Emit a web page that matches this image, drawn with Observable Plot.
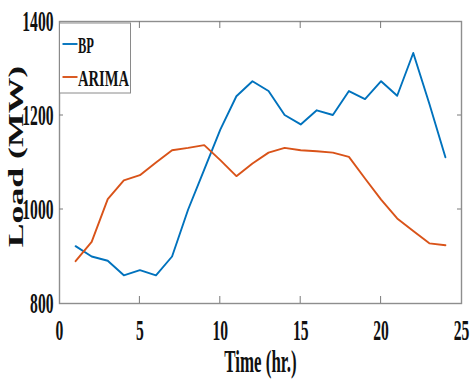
<!DOCTYPE html>
<html>
<head>
<meta charset="utf-8">
<script src="https://cdn.jsdelivr.net/npm/d3@7"></script>
<script src="https://cdn.jsdelivr.net/npm/@observablehq/plot@0.6"></script>
<style>
  html, body { margin: 0; padding: 0; background: #fff; }
  #chart svg { display: block; }
</style>
</head>
<body>
<div id="chart"></div>
<script>
// Hourly load forecasts (MW) from two models
const hours = [1, 2, 3, 4, 5, 6, 7, 8, 9, 10, 11, 12, 13, 14, 15, 16, 17, 18, 19, 20, 21, 22, 23, 24];
const bpLoad = [922, 900, 891, 860, 871, 860, 900, 1000, 1085, 1170, 1241, 1273, 1252, 1201, 1181, 1211, 1201, 1252, 1235, 1273, 1242, 1333, 1225, 1111];
const arimaLoad = [890, 931, 1022, 1062, 1073, 1100, 1126, 1131, 1137, 1105, 1071, 1098, 1121, 1131, 1126, 1124, 1121, 1112, 1066, 1021, 981, 954, 928, 924];
const seriesNames = ["BP", "ARIMA"];
const seriesColors = ["#0072BD", "#D95319"];
const xTicks = [0, 5, 10, 15, 20, 25];
const yTicks = [800, 1000, 1200, 1400];
const xTitle = "Time (hr.)";
const yTitle = "Load (MW)";

const rows = [
  ...hours.map((h, i) => ({hour: h, load: bpLoad[i], model: seriesNames[0]})),
  ...hours.map((h, i) => ({hour: h, load: arimaLoad[i], model: seriesNames[1]}))
];

const W = 471, H = 383;
const M = {top: 21, right: 10, bottom: 80, left: 59};
const font = "'Liberation Serif', 'Times New Roman', serif";

const plot = Plot.plot({
  width: W,
  height: H,
  marginTop: M.top,
  marginRight: M.right,
  marginBottom: M.bottom,
  marginLeft: M.left,
  style: {fontFamily: font, background: "#fff", overflow: "visible"},
  x: {domain: [0, 25], axis: null},
  y: {domain: [800, 1400], axis: null},
  color: {domain: seriesNames, range: seriesColors},
  marks: [
    Plot.frame({stroke: "#8e8e8e", strokeWidth: 1.4}),
    Plot.line(rows, {x: "hour", y: "load", z: "model", stroke: "model", strokeWidth: 1.9, strokeLinejoin: "round"}),
    // tick labels
    Plot.text(xTicks, {x: d => d, text: d => String(d), frameAnchor: "bottom", dy: 27, lineAnchor: "middle", textAnchor: "middle",
      fontSize: 30, fontWeight: "bold", fill: "#111"}),
    Plot.text(yTicks, {y: d => d, text: d => String(d), frameAnchor: "left", dx: -6, lineAnchor: "middle", textAnchor: "end",
      fontSize: 30, fontWeight: "bold", fill: "#111"}),
    // axis titles
    Plot.text([xTitle], {frameAnchor: "bottom", dy: 59, lineAnchor: "middle", textAnchor: "middle",
      fontSize: 31, fontWeight: "bold", fill: "#111"}),
    Plot.text([yTitle], {frameAnchor: "left", rotate: -90, dx: -43, dy: -6, lineAnchor: "middle", textAnchor: "middle",
      fontSize: 21, fontWeight: "bold", fill: "#111"})
  ]
});

document.getElementById("chart").appendChild(plot);

// Narrow the glyphs of each text group to its set width per character
const textGroups = plot.querySelectorAll('g[aria-label="text"]');
const squeeze = [0.52, 0.52, 0.545, 1.7];
textGroups.forEach((g, gi) => {
  g.querySelectorAll("text").forEach(t => {
    const w = t.getComputedTextLength();
    t.setAttribute("textLength", (w * squeeze[gi]).toFixed(1));
    t.setAttribute("lengthAdjust", "spacingAndGlyphs");
  });
});

// Inward-pointing ticks on all four sides
const sx = plot.scale("x"), sy = plot.scale("y");
const svg = d3.select(plot);
const x0 = M.left, x1 = W - M.right, y0 = M.top, y1 = H - M.bottom;
const ticks = svg.append("g").attr("stroke", "#7a7a7a").attr("stroke-width", 1);
xTicks.slice(1, -1).forEach(v => {
  const px = sx.apply(v);
  ticks.append("line").attr("x1", px).attr("x2", px).attr("y1", y1).attr("y2", y1 - 7);
  ticks.append("line").attr("x1", px).attr("x2", px).attr("y1", y0).attr("y2", y0 + 7);
});
yTicks.slice(1, -1).forEach(v => {
  const py = sy.apply(v);
  ticks.append("line").attr("x1", x0).attr("x2", x0 + 4).attr("y1", py).attr("y2", py);
  ticks.append("line").attr("x1", x1).attr("x2", x1 - 4).attr("y1", py).attr("y2", py);
});

// Legend box in the upper-left corner
const lg = svg.append("g").attr("transform", `translate(${x0 + 0.5},${y0 + 2})`);
lg.append("rect").attr("width", 71).attr("height", 70)
  .attr("fill", "#fff").attr("stroke", "#8a8a8a").attr("stroke-width", 1);
const legendWidths = [16, 51];
seriesNames.forEach((name, i) => {
  const cy = 21 + i * 33;
  lg.append("line").attr("x1", 3).attr("x2", 18).attr("y1", cy).attr("y2", cy)
    .attr("stroke", seriesColors[i]).attr("stroke-width", 1.9);
  lg.append("text").attr("x", 18.5).attr("y", cy + 8.5)
    .attr("text-anchor", "start")
    .attr("font-family", font).attr("font-weight", "bold").attr("font-size", 23).attr("fill", "#111")
    .attr("textLength", legendWidths[i]).attr("lengthAdjust", "spacingAndGlyphs")
    .text(name);
});
</script>
</body>
</html>
